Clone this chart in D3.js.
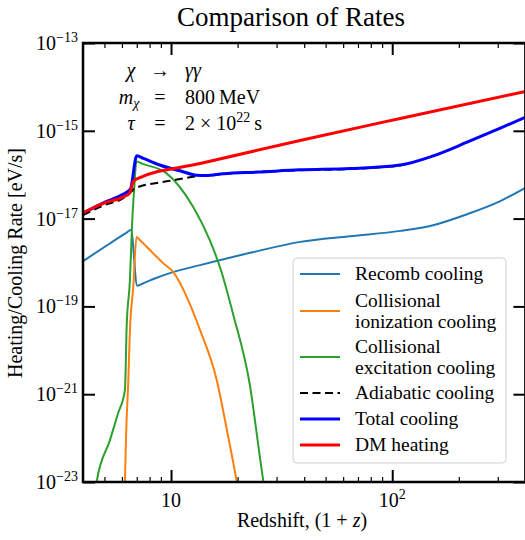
<!DOCTYPE html>
<html>
<head>
<meta charset="utf-8">
<script src="https://cdn.jsdelivr.net/npm/d3@7"></script>
<style>
  body { margin: 0; background: #fff; }
  svg { display: block; }
  svg text { font-family: "Liberation Serif", "DejaVu Serif", "Noto Serif", serif; fill: #000; }
</style>
</head>
<body>
<div id="chart"></div>
<script>
// values, x is (1+z), y is rate in eV/s
const recombX = [4, 5.2, 6.3, 6.59, 7.03, 7.6, 8.5, 10.2, 13.53, 22.8, 38.3, 64.6, 108.7, 153, 218, 308, 400];
const recombY = [1.07e-18, 2.57e-18, 4.79e-18, 5.5e-18, 2.95e-19, 3.47e-19, 4.37e-19, 6.03e-19, 8.71e-19, 1.66e-18, 2.95e-18, 3.98e-18, 5.25e-18, 7.08e-18, 1.26e-17, 2.51e-17, 5.01e-17];

const ionX = [6.17, 6.26, 6.41, 6.52, 6.75, 6.98, 7.2, 7.76, 9.23, 10.24, 11.94, 13.53, 16.1, 17.9, 19.83, 20.3];
const ionY = [5.0e-24, 1.07e-22, 2.09e-21, 2.88e-20, 2.75e-19, 3.8e-18, 3.31e-18, 2.29e-18, 9.55e-19, 6.03e-19, 1.41e-19, 2.88e-20, 2.09e-21, 1.51e-22, 1.0e-23, 5.0e-24];

const exciteX = [4.55, 4.61, 5.3, 5.77, 6.19, 6.3, 6.52, 6.68, 6.81, 6.98, 7.5, 9.49, 12.58, 14.97, 16.8, 19.14, 22.79, 25.09, 26.5];
const exciteY = [6.3e-24, 1.0e-23, 9.12e-23, 3.72e-22, 1.26e-21, 3.39e-20, 3.98e-19, 9.33e-18, 4.47e-17, 2.0e-16, 1.74e-16, 1.1e-16, 1.86e-17, 3.24e-18, 6.76e-19, 6.31e-20, 1.48e-21, 4.47e-23, 6.3e-24];

const adiabX = [4, 5, 6, 6.59, 6.87, 9.9, 13.4, 15.5, 17.2, 38, 65, 109];
const adiabY = [1.2e-17, 2.04e-17, 2.82e-17, 4.07e-17, 4.9e-17, 7.24e-17, 9.33e-17, 9.77e-17, 1.03e-16, 1.26e-16, 1.35e-16, 1.6e-16];

const totalX = [4, 5, 6, 6.55, 7.0, 7.5, 8.89, 11.33, 13, 14.4, 17.2, 25, 38.3, 64.6, 108.7, 153.3, 218, 308, 400];
const totalY = [1.32e-17, 2.34e-17, 3.47e-17, 4.68e-17, 2.69e-16, 2.35e-16, 1.66e-16, 1.17e-16, 9.77e-17, 9.55e-17, 1.05e-16, 1.15e-16, 1.29e-16, 1.38e-16, 1.66e-16, 2.69e-16, 5.5e-16, 1.15e-15, 2.04e-15];

const heatX = [4, 5, 6, 6.5, 6.73, 6.96, 13.53, 38.3, 108.7, 400];
const heatY = [1.35e-17, 2.29e-17, 3.02e-17, 3.8e-17, 6.76e-17, 7.94e-17, 1.8e-16, 6.03e-16, 1.91e-15, 7.85e-15];

const yTickExps = [-13, -15, -17, -19, -21, -23];
const xMajorTicks = [10, 100];
const xMinorTicks = [5, 6, 7, 8, 9, 20, 30, 40, 50, 60, 70, 80, 90, 200, 300];

const series = [
  { name: ["Recomb cooling"], xs: recombX, ys: recombY, color: "#1f77b4", w: 2 },
  { name: ["Collisional", "ionization cooling"], xs: ionX, ys: ionY, color: "#ff7f0e", w: 2 },
  { name: ["Collisional", "excitation cooling"], xs: exciteX, ys: exciteY, color: "#2ca02c", w: 2 },
  { name: ["Adiabatic cooling"], xs: adiabX, ys: adiabY, color: "#000000", w: 2, dash: "8,4.5" },
  { name: ["Total cooling"], xs: totalX, ys: totalY, color: "#0000ff", w: 3 },
  { name: ["DM heating"], xs: heatX, ys: heatY, color: "#ff0000", w: 3 }
];

const W = 525, H = 540;
const pL = 83, pR = 525.4, pT = 43, pB = 482;

const svg = d3.select("#chart").append("svg")
  .attr("width", W).attr("height", H);

const x = d3.scaleLog().domain([4, 400]).range([pL, pR]);
const y = d3.scaleLog().domain([1e-23, 1e-13]).range([pB, pT]);

svg.append("clipPath").attr("id", "clip")
  .append("rect").attr("x", pL).attr("y", pT)
  .attr("width", pR - pL).attr("height", pB - pT);

// curves
const line = d3.line()
  .x(d => x(d[0])).y(d => y(d[1]))
  .curve(d3.curveMonotoneX);

const plot = svg.append("g").attr("clip-path", "url(#clip)");
series.forEach(s => {
  plot.append("path")
    .datum(s.xs.map((v, i) => [v, s.ys[i]]))
    .attr("d", line)
    .attr("fill", "none")
    .attr("stroke", s.color)
    .attr("stroke-width", s.w)
    .attr("stroke-dasharray", s.dash || null)
    .attr("stroke-linejoin", "round");
});

// axes, ticks pointing inwards
function tidy(g, w) {
  g.select(".domain").remove();
  g.selectAll(".tick line").attr("stroke", "#000").attr("stroke-width", w);
  g.selectAll(".tick text").remove();
}
const yTicks = yTickExps.map(e => Math.pow(10, e));

svg.append("g").attr("transform", `translate(0,${pB})`)
  .call(d3.axisBottom(x).tickValues(xMinorTicks).tickSize(-5)).call(g => tidy(g, 1.2));
svg.append("g").attr("transform", `translate(0,${pB})`)
  .call(d3.axisBottom(x).tickValues(xMajorTicks).tickSize(-12)).call(g => tidy(g, 2));
svg.append("g").attr("transform", `translate(0,${pT})`)
  .call(d3.axisTop(x).tickValues(xMinorTicks).tickSize(-5)).call(g => tidy(g, 1.2));
svg.append("g").attr("transform", `translate(0,${pT})`)
  .call(d3.axisTop(x).tickValues(xMajorTicks).tickSize(-12)).call(g => tidy(g, 2));
svg.append("g").attr("transform", `translate(${pL},0)`)
  .call(d3.axisLeft(y).tickValues(yTicks).tickSize(-12)).call(g => tidy(g, 2));
svg.append("g").attr("transform", `translate(${pR},0)`)
  .call(d3.axisRight(y).tickValues(yTicks).tickSize(-12)).call(g => tidy(g, 2));

svg.append("rect")
  .attr("x", pL).attr("y", pT)
  .attr("width", pR - pL).attr("height", pB - pT)
  .attr("fill", "none").attr("stroke", "#000").attr("stroke-width", 2.5);

// tick labels
yTickExps.forEach(e => {
  const t = svg.append("text")
    .attr("x", 78).attr("y", y(Math.pow(10, e)) + 7)
    .attr("text-anchor", "end").style("font-size", "20px");
  t.append("tspan").text("10");
  t.append("tspan").attr("dy", -8).style("font-size", "14px").text("\u2212" + Math.abs(e));
});
xMajorTicks.forEach(v => {
  const t = svg.append("text")
    .attr("x", x(v)).attr("y", 507)
    .attr("text-anchor", "middle").style("font-size", "20px");
  t.append("tspan").text("10");
  const ex = Math.round(Math.log10(v));
  if (ex > 1) t.append("tspan").attr("dy", -8).style("font-size", "14px").text(ex);
});

// titles
svg.append("text").attr("x", 291).attr("y", 26)
  .attr("text-anchor", "middle").style("font-size", "27px")
  .text("Comparison of Rates");

const xl = svg.append("text").attr("x", 302).attr("y", 527)
  .attr("text-anchor", "middle").style("font-size", "20px");
xl.append("tspan").text("Redshift, (1 + ");
xl.append("tspan").style("font-style", "italic").text("z");
xl.append("tspan").text(")");

svg.append("text")
  .attr("transform", "translate(22,263) rotate(-90)")
  .attr("text-anchor", "middle").style("font-size", "20px")
  .text("Heating/Cooling Rate [eV/s]");

// annotation block
const ann = svg.append("g").style("font-size", "20px");
const r1 = 77, r2 = 103.5, r3 = 130;
ann.append("text").attr("x", 131).attr("y", r1).attr("text-anchor", "middle")
  .style("font-style", "italic").text("\u03c7");
ann.append("text").attr("x", 160).attr("y", r1).attr("text-anchor", "middle").text("\u2192");
ann.append("text").attr("x", 185).attr("y", r1).style("font-style", "italic").text("\u03b3\u03b3");

const m = ann.append("text").attr("x", 129).attr("y", r2).attr("text-anchor", "middle");
m.append("tspan").style("font-style", "italic").text("m");
m.append("tspan").attr("dy", 4).style("font-size", "14px").style("font-style", "italic").text("\u03c7");
ann.append("text").attr("x", 160).attr("y", r2).attr("text-anchor", "middle").text("=");
ann.append("text").attr("x", 185).attr("y", r2).text("800\u2009MeV");

ann.append("text").attr("x", 131).attr("y", r3).attr("text-anchor", "middle")
  .style("font-style", "italic").text("\u03c4");
ann.append("text").attr("x", 160).attr("y", r3).attr("text-anchor", "middle").text("=");
const tau = ann.append("text").attr("x", 185).attr("y", r3);
tau.append("tspan").text("2 \u00d7 10");
tau.append("tspan").attr("dy", -8).style("font-size", "14px").text("22");
tau.append("tspan").attr("dy", 8).text("\u2009s");

// legend
const lg = svg.append("g");
lg.append("rect")
  .attr("x", 293).attr("y", 258).attr("width", 213).attr("height", 205)
  .attr("rx", 4).attr("fill", "#fff").attr("fill-opacity", 0.8)
  .attr("stroke", "#d0d0d0").attr("stroke-width", 1);

const rowY = [274, 311, 357, 393, 419, 445];
series.forEach((s, i) => {
  const cy = rowY[i];
  lg.append("line")
    .attr("x1", 300).attr("x2", 340).attr("y1", cy).attr("y2", cy)
    .attr("stroke", s.color).attr("stroke-width", s.w)
    .attr("stroke-dasharray", s.dash || null);
  const n = s.name.length;
  s.name.forEach((txt, j) => {
    lg.append("text")
      .attr("x", 355).attr("y", cy + 6 + (j - (n - 1) / 2) * 21)
      .style("font-size", "19.5px").text(txt);
  });
});
</script>
</body>
</html>
